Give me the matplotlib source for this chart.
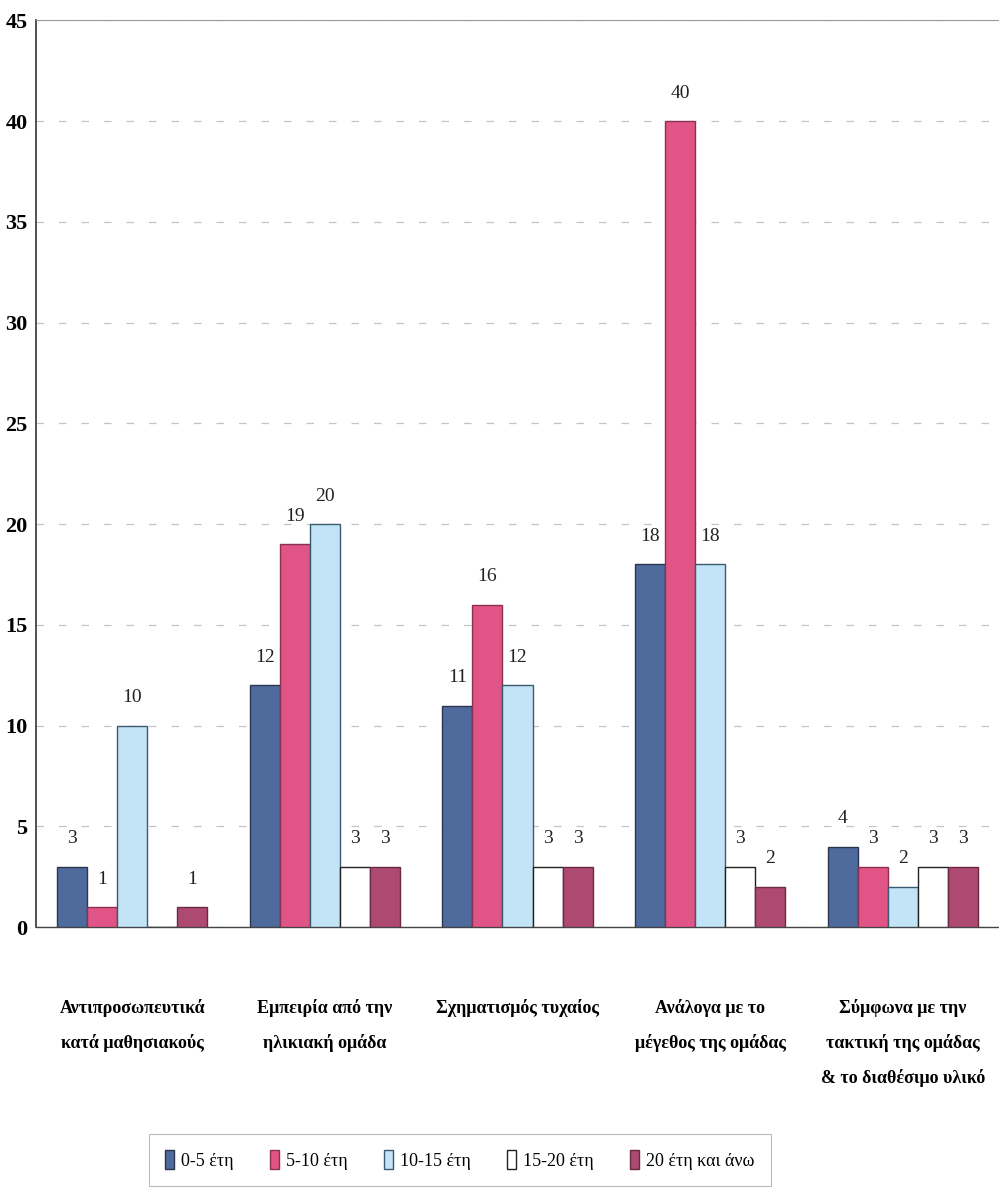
import matplotlib
matplotlib.use("Agg")
import matplotlib.pyplot as plt
import numpy as np

categories = [
    "Αντιπροσωπευτικά\nκατά μαθησιακούς",
    "Εμπειρία από την\nηλικιακή ομάδα",
    "Σχηματισμός τυχαίος",
    "Ανάλογα με το\nμέγεθος της ομάδας",
    "Σύμφωνα με την\nτακτική της ομάδας\n& το διαθέσιμο υλικό",
]
series_names = ["0-5 έτη", "5-10 έτη", "10-15 έτη", "15-20 έτη", "20 έτη και άνω"]
v_0_5 = [3, 12, 11, 18, 4]
v_5_10 = [1, 19, 16, 40, 3]
v_10_15 = [10, 20, 12, 18, 2]
v_15_20 = [0, 3, 3, 3, 3]
v_20_plus = [1, 3, 3, 2, 3]
yticks = [0, 5, 10, 15, 20, 25, 30, 35, 40, 45]

series = [v_0_5, v_5_10, v_10_15, v_15_20, v_20_plus]
colors = ["#4F6B9E", "#E05586", "#C2E4F6", "#FFFFFF", "#AE4A72"]
edges = ["#2a3550", "#8a3050", "#3a5a70", "#222222", "#6a2a45"]

plt.rcParams['font.family'] = ['Liberation Serif', 'DejaVu Serif']

fig = plt.figure(figsize=(9.99, 12.01), dpi=100)
ax = fig.add_axes([0.036, 0.228, 0.964, 0.755])

x = np.arange(len(categories))
w = 0.156
for i, (vals, c, ec) in enumerate(zip(series, colors, edges)):
    pos = x + (i - 2) * w
    bars = ax.bar(pos, vals, width=w, color=c, edgecolor=ec, linewidth=1.0,
                  label=series_names[i], zorder=3)
    for b, v in zip(bars, vals):
        if v == 0:
            continue
        ax.annotate(str(v), (b.get_x() + b.get_width() / 2, v),
                    xytext=(0, 14), textcoords="offset points",
                    ha="center", va="bottom", fontsize=14, color="#222222")

ax.set_xlim(-0.5, 4.5)
ax.set_ylim(0, 45)
ax.set_yticks(yticks)
ax.set_yticklabels([str(t) for t in yticks], fontsize=16, fontweight="bold")
ax.tick_params(axis="y", length=0, pad=6)
ax.yaxis.grid(True, color="#c4c4c4", linestyle=(0, (6, 12)), linewidth=0.9, zorder=0)
ax.set_xticks(x)
ax.set_xticklabels(categories, fontsize=13, fontweight="bold", linespacing=2.2)
ax.tick_params(axis="x", length=0, pad=52)

ax.spines["right"].set_visible(False)
ax.spines["top"].set_color("#999999")
ax.spines["left"].set_color("#333333")
ax.spines["left"].set_linewidth(1.2)
ax.spines["bottom"].set_color("#444444")
ax.spines["bottom"].set_linewidth(1.0)

leg = fig.legend(loc="center", bbox_to_anchor=(0.46, 0.034), ncol=5,
                 fontsize=13, frameon=True, handlelength=0.5, handleheight=1.2,
                 columnspacing=2.0, handletextpad=0.4, borderpad=0.9,
                 fancybox=False, edgecolor="#aaaaaa")
leg.get_frame().set_linewidth(0.8)

fig.savefig("out.png", dpi=100)
